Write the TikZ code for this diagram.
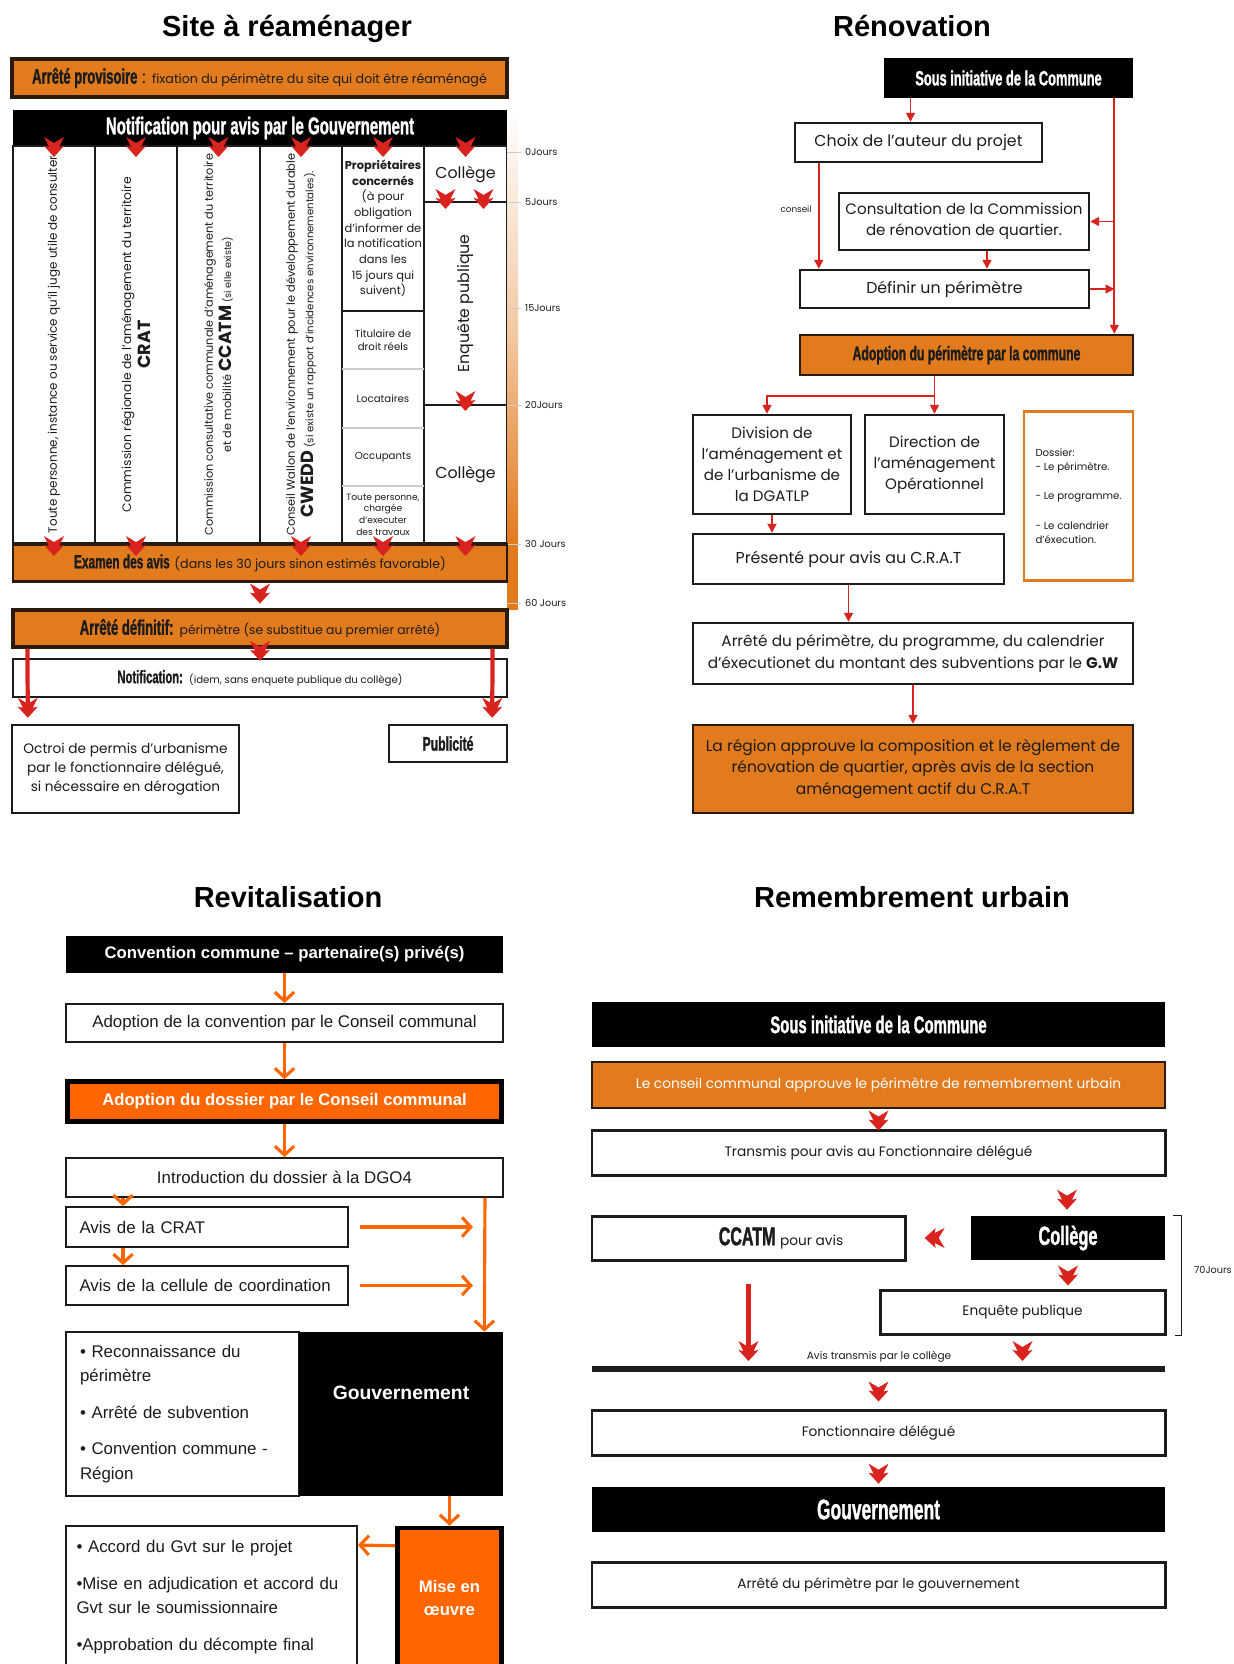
\documentclass[tikz,border=0pt]{standalone}
\usepackage{fontspec}
\setmainfont{Poppins}
\newfontfamily\cond[FakeStretch=0.62,FakeBold=1.2]{Liberation Sans}
\newfontfamily\arial{Liberation Sans}
\usetikzlibrary{calc,arrows.meta}

\definecolor{orgA}{HTML}{E27A1E}
\definecolor{orgB}{HTML}{FF6600}
\definecolor{redA}{HTML}{D8231F}
\definecolor{brn}{HTML}{2B1A0E}
\definecolor{ink}{HTML}{1C1C1C}

\newcommand\fsz[2]{\fontsize{#1}{#2}\selectfont}
\newcommand\cnd[2]{{\cond\bfseries\fsz{#1}{#1}#2}}

\tikzset{
  box/.style={draw=ink, line width=1.4pt, fill=white, align=center, inner sep=1pt, text=ink},
  obox/.style={box, fill=orgA, draw=brn},
  bbox/.style={fill=black, text=white, align=center, inner sep=1pt},
  col/.style={draw=ink, line width=1.2pt, fill=white, align=center, text=ink},
  sz/.style 2 args={minimum width=#1*0.02cm, minimum height=#2*0.02cm},
  rarr/.style={draw=redA, line width=1pt, -{Triangle[length=5pt,width=5pt]}},
  rline/.style={draw=redA, line width=2.4pt},
  oarr/.style={draw=orgB, line width=1.8pt, -{Straight Barb[length=5pt,width=11pt,line width=1.8pt]}},
  lbl/.style={font=\fsz{5.5}{6.5}, text=ink},
  ttl/.style={font=\arial\bfseries\fsz{16.5}{18}},
  chev/.pic={\fill[redA] (0,0) -- (-10,-11) -- (-5,-10) -- (-10,-20) -- (0,-14) -- (10,-20) -- (5,-10) -- (10,-11) -- cycle;}
}

\begin{document}
\begin{tikzpicture}[x=0.02cm, y=-0.02cm]
\useasboundingbox (0,0) rectangle (1234,1664);

% titres
\node[ttl] (t1) at (287,29) {Site à réaménager};
\node[ttl] (t2) at (912,26) {Rénovation};
\node[ttl] (t3) at (288,897) {Revitalisation};
\node[ttl] (t4) at (912,897) {Remembrement urbain};

%%%%% site a reamenager
\node[obox, line width=1.8pt, sz={495}{38}] (aprov) at (259.5,78) {\cnd{12}{Arrêté provisoire} : \fsz{7.2}{9}fixation du périmètre du site qui doit être réaménagé};
\node[bbox, sz={494}{36}] (notif) at (260,128) {\cnd{13.8}{Notification pour avis par le Gouvernement}};

% les colonnes
\node[col, sz={82}{397}] (c1) at (54,344.5) {};
\node[col, sz={82}{397}] (c2) at (136,344.5) {};
\node[col, sz={83}{397}] (c3) at (218.5,344.5) {};
\node[col, sz={82}{397}] (c4) at (301,344.5) {};
\node[col, sz={82}{397}] (c5) at (383,344.5) {};
\node[col, sz={83}{56}] (c6a) at (465.5,174) {\fsz{9}{10}Collège};
\node[col, sz={83}{203}] (c6b) at (465.5,303.5) {};
\node[col, sz={83}{138}] (c6c) at (465.5,474) {\fsz{9}{10}Collège};

\node[rotate=90, text=ink, font=\fsz{6.8}{8}] (tx1) at (c1) {Toute personne, instance ou service qu’il juge utile de consulter};
\node[rotate=90, text=ink, align=center, font=\fsz{7}{11}] (tx2) at (c2) {Commission régionale de l’aménagement du territoire\\{\bfseries\fsz{10}{11}CRAT}};
\node[rotate=90, text=ink, align=center, font=\fsz{6.4}{10.5}] (tx3) at (c3) {Commission consultative communale d’aménagement du territoire\\et de mobilité {\bfseries\fsz{10}{10.5}CCATM} {\fsz{5.5}{6}(si elle existe)}};
\node[rotate=90, text=ink, align=center, font=\fsz{6.5}{10.5}] (tx4) at (c4) {Conseil Wallon de l’environnement pour le développement durable\\{\bfseries\fsz{10}{10.5}CWEDD} {\fsz{5.8}{6}(si existe un rapport d’incidences environnementales).}};
\node[rotate=90, text=ink, font=\fsz{9}{10}] (tx6) at (c6b) {Enquête publique};

% colonne des proprietaires
\draw[line width=1.2pt, ink] (342,311) -- (424,311);
\draw[line width=0.6pt, gray!40] (342,369) -- (424,369) (342,428) -- (424,428) (342,486) -- (424,486);
\node[text=ink, align=center, font=\fsz{6.5}{8.9}] (prop) at (383,228.5) {\textbf{Propriétaires}\\\textbf{concernés}\\(à pour\\obligation\\d’informer de\\la notification\\dans les\\15 jours qui\\suivent)};
\node[text=ink, align=center, font=\fsz{5.8}{7.5}] (titu) at (383,340) {Titulaire de\\droit réels};
\node[text=ink, font=\fsz{5.8}{7.5}] (loca) at (383,398.5) {Locataires};
\node[text=ink, font=\fsz{5.8}{7.5}] (occu) at (383,457) {Occupants};
\node[text=ink, align=center, font=\fsz{5.2}{6.6}] (trav) at (383,514.5) {Toute personne,\\chargée\\d’executer\\des travaux};

% barre des jours
\shade[top color=white, bottom color=orgA, middle color=orgA!40] (507,110) rectangle (518,545);
\fill[orgA] (507,545) rectangle (518,610);
\foreach \yy/\lab in {152/0Jours, 202/5Jours, 308/15Jours, 405/20Jours, 544/30 Jours, 603/60 Jours}{
  \draw[gray!40, line width=0.4pt] (507,\yy) -- (521,\yy);
  \node[lbl, anchor=west] (j\yy) at (519,\yy) {\lab};
}

\node[obox, sz={494}{37}] (exam) at (260,563) {\cnd{10.9}{Examen des avis} \fsz{7.2}{9}(dans les 30 jours sinon estimés favorable)};
\node[obox, line width=1.8pt, sz={494}{37}] (adef) at (260,628.5) {\cnd{12}{Arrêté définitif:} \fsz{7}{9}périmètre (se substitue au premier arrêté)};
\node[box, sz={494}{38}] (notif2) at (260,678) {\cnd{10.3}{Notification:} \fsz{5.8}{7}(idem, sans enquete publique du collège)};
\node[box, sz={227}{88}, font=\fsz{7.8}{10.8}] (octroi) at (125.5,769) {Octroi de permis d’urbanisme\\par le fonctionnaire délégué,\\si nécessaire en dérogation};
\node[box, sz={118}{37}] (pub) at (448,743.5) {\cnd{11.2}{Publicité}};

% fleches rouges
\foreach \c in {c1,c2,c3,c4,c5,c6a}
  \pic at ($(\c.north)+(0,12)$) {chev};
\pic at ($(c6b.north)+(-20,8)$) {chev};
\pic at ($(c6b.north)+(18,8)$) {chev};
\pic at ($(c6c.north)+(0,7)$) {chev};
\foreach \c in {c1,c2,c4,c5,c6c}
  \pic at ($(\c.south)+(0,12)$) {chev};
\pic at ($(exam.south)!0.5!(adef.north)+(0,8)$) {chev};
\pic at ($(notif2.north)+(0,3)$) {chev};
\draw[rline] ($(adef.south west)+(16,0)$) -- ($(octroi.north west)+(17,-10)$);
\pic at ($(octroi.north west)+(17,-6)$) {chev};
\draw[rline] ($(adef.south east)+(-16,0)$) -- ($(pub.north east)+(-16,-10)$);
\pic at ($(pub.north east)+(-16,-6)$) {chev};

%%%%% renovation
\node[bbox, sz={249}{40}] (sous2) at (1008.5,78) {\cnd{11.8}{Sous initiative de la Commune}};
\node[box, sz={247}{39}, font=\fsz{9}{11}] (choix) at (918.5,142.5) {Choix de l’auteur du projet};
\node[box, sz={250}{57}, font=\fsz{8.6}{12}] (consult) at (964,221.5) {Consultation de la Commission\\de rénovation de quartier.};
\node[box, sz={289}{38}, font=\fsz{9}{11}] (definir) at (944.5,289) {Définir un périmètre};
\node[obox, sz={333}{40}] (adopt2) at (966.5,355) {\cnd{11.2}{Adoption du périmètre par la commune}};
\node[box, sz={158}{99}, font=\fsz{8.6}{12}] (division) at (772,464.5) {Division de\\l’aménagement et\\de l’urbanisme de\\la DGATLP};
\node[box, sz={139}{99}, font=\fsz{8.6}{12}] (direction) at (934.5,464.5) {Direction de\\l’aménagement\\Opérationnel};
\node[box, draw=orgA, sz={109}{169}, align=left, font=\fsz{5.8}{7.8}] (dossier) at (1078.5,496) {Dossier:\\- Le périmètre.\\[9pt]- Le programme.\\[9pt]- Le calendrier\\d’éxecution.};
\node[box, sz={311}{50}, font=\fsz{9}{11}] (presente) at (848.5,559) {Présenté pour avis au C.R.A.T};
\node[box, sz={440}{61}, font=\fsz{8.7}{12}] (arrete2) at (913,653.5) {Arrêté du périmètre, du programme, du calendrier\\d’éxecutionet du montant des subventions par le \textbf{G.W}};
\node[obox, sz={440}{88}, font=\fsz{8.8}{12}] (region) at (913,769) {La région approuve la composition et le règlement de\\rénovation de quartier, après avis de la section\\aménagement actif du C.R.A.T};

\coordinate (rtop) at ($(sous2.south east)+(-19,0)$);
\coordinate (cs) at ($(choix.south west)+(25,0)$);
\coordinate (ks) at ($(consult.south)+(23,0)$);
\coordinate (cn) at ($(choix.north)+(-8,0)$);
\draw[rarr] (sous2.south -| cn) -- (cn);
\draw[rarr] (rtop) -- (rtop |- adopt2.north);
\draw[rarr] (rtop |- consult.east) -- (consult.east);
\draw[rarr] (definir.east) -- (rtop |- definir.east);
\draw[rarr] (cs) -- (cs |- definir.north);
\node[lbl, anchor=east, font=\fsz{5}{6}] (conseil) at ($(cs)+(-1,46)$) {conseil};
\draw[rarr] (ks) -- (ks |- definir.north);
\draw[rarr] (direction.north |- adopt2.south) -- (direction.north);
\draw[rarr] (direction.north |- adopt2.south) -- ++(0,20) -| ($(division.north)+(-5,0)$);
\draw[rarr] (division.south) -- (division.south |- presente.north);
\draw[rarr] (presente.south) -- (presente.south |- arrete2.north);
\draw[rarr] (arrete2.south) -- (region.north);

%%%%% revitalisation
\node[bbox, sz={437}{37}] (conv) at (284.5,954.5) {\arial\bfseries\fsz{9.5}{11}Convention commune – partenaire(s) privé(s)};
\node[box, line width=1.1pt, sz={437}{38}] (adconv) at (284.5,1023) {\arial\fsz{9.6}{11}Adoption de la convention par le Conseil communal};
\node[box, draw=black, line width=2.6pt, fill=orgB, text=white, sz={434}{40}] (addos) at (284.5,1101.5) {\arial\bfseries\fsz{9.5}{11}Adoption du dossier par le Conseil communal};
\node[box, line width=1.1pt, sz={437}{39}] (intro) at (284.5,1177.5) {\arial\fsz{9.6}{11}Introduction du dossier à la DGO4};
\node[box, line width=1.1pt, sz={282}{40}, text width=5.1cm, align=left] (crat) at (207,1227) {\arial\fsz{9.6}{11}Avis de la CRAT};
\node[box, line width=1.1pt, sz={282}{39}, text width=5.1cm, align=left] (cell) at (207,1285.5) {\arial\fsz{9.6}{11}Avis de la cellule de coordination};
\node[box, line width=1.1pt, sz={233}{164}, text width=4.1cm, align=left, font=\arial\fsz{9.6}{13.8}] (bul1) at (182.5,1414) {• Reconnaissance du\\périmètre\\[7pt]• Arrêté de subvention\\[7pt]• Convention commune -\\Région};
\node[bbox, sz={204}{164}] (gouv3) at (401,1414) {};
\node[text=white, font=\arial\bfseries\fsz{11}{12}] (gvt) at ($(gouv3.center)+(0,-21)$) {Gouvernement};
\node[box, draw=black, line width=2.6pt, fill=orgB, text=white, sz={104}{140}, font=\arial\bfseries\fsz{9.5}{13.5}] (mise) at (449.5,1598) {Mise en\\œuvre};
\node[box, line width=1.1pt, sz={291}{142}, text width=5.4cm, align=left, font=\arial\fsz{9.6}{13.8}] (bul2) at (211.5,1597) {• Accord du Gvt sur le projet\\[7pt]•Mise en adjudication et accord du\\Gvt sur le soumissionnaire\\[7pt]•Approbation du décompte final};

\draw[oarr] (conv.south) -- (adconv.north);
\draw[oarr] (adconv.south) -- (addos.north);
\draw[oarr] (addos.south) -- (intro.north);
\draw[oarr] ($(intro.south west)+(58,0)$) -- ($(crat.north west)+(58,0)$);
\draw[oarr] ($(crat.south west)+(58,0)$) -- ($(cell.north west)+(58,0)$);
\draw[oarr] ($(crat.east)+(11,0)$) -- ($(crat.east)+(124,0)$);
\draw[oarr] ($(cell.east)+(11,0)$) -- ($(cell.east)+(124,0)$);
\draw[oarr] ($(intro.south east)+(-19,0)$) -- ($(gouv3.north east)+(-19,0)$);
\draw[oarr] (mise.north |- gouv3.south) -- (mise.north);
\draw[oarr] ($(mise.north west)+(0,20)$) -- ($(bul2.north east)+(0,20)$);

%%%%% remembrement urbain
\node[bbox, sz={573}{45}] (sous4) at (878.5,1024.5) {\cnd{13.7}{Sous initiative de la Commune}};
\node[obox, text=white, sz={573}{46}, font=\fsz{7.8}{9}] (cons4) at (878.5,1085) {Le conseil communal approuve le périmètre de remembrement urbain};
\node[box, line width=1.7pt, sz={573}{45}, font=\fsz{7.8}{9}] (trans) at (878.5,1152.5) {Transmis pour avis au Fonctionnaire délégué};
\node[box, line width=1.7pt, sz={313}{44}] (ccatm) at (748.5,1238) {\hspace*{1.3cm}\cnd{14.7}{CCATM} \fsz{7.8}{9}pour avis};
\node[bbox, sz={194}{44}] (colleg) at (1068,1238) {\cnd{15}{Collège}};
\node[box, line width=1.7pt, sz={285}{44}, font=\fsz{7.8}{9}] (enq) at (1022.5,1312) {Enquête publique};
\draw[line width=0.6pt, ink] ($(colleg.north east)+(8,0)$) -- ++(8,0) |- ($(enq.south east)+(8,0)$);
\node[lbl, anchor=west] (jours70) at (1188,1270) {70Jours};
\coordinate (hl1) at (592,1369);
\coordinate (hl2) at (1165,1369);
\draw[line width=3.2pt, ink] (hl1) -- (hl2);
\node[lbl, font=\fsz{6}{7}] (avt) at (879,1357) {Avis transmis par le collège};
\node[box, line width=1.7pt, sz={573}{45}, font=\fsz{7.8}{9}] (fonc) at (878.5,1432.5) {Fonctionnaire délégué};
\node[bbox, sz={573}{45}] (gouv4) at (878.5,1509.5) {\cnd{16}{Gouvernement}};
\node[box, line width=1.7pt, sz={573}{45}, font=\fsz{7.8}{9}] (arr4) at (878.5,1584.5) {Arrêté du périmètre par le gouvernement};

\pic at ($(trans.north)+(0,2)$) {chev};
\pic at ($(colleg.north)+(-1,-6)$) {chev};
\pic[rotate=-90] at ($(colleg.west)+(-46,0)$) {chev};
\pic at ($(colleg.south |- enq.north)+(0,-3)$) {chev};
\draw[rline] ($(ccatm.south)+(0,22)$) -- ($(ccatm.south |- hl1)+(0,-14)$);
\pic at ($(ccatm.south |- hl1)+(0,-8)$) {chev};
\pic at ($(enq.south |- hl1)+(0,-8)$) {chev};
\pic at ($(fonc.north)+(0,-7)$) {chev};
\pic at ($(gouv4.north)+(0,-3)$) {chev};
\end{tikzpicture}
\end{document}
